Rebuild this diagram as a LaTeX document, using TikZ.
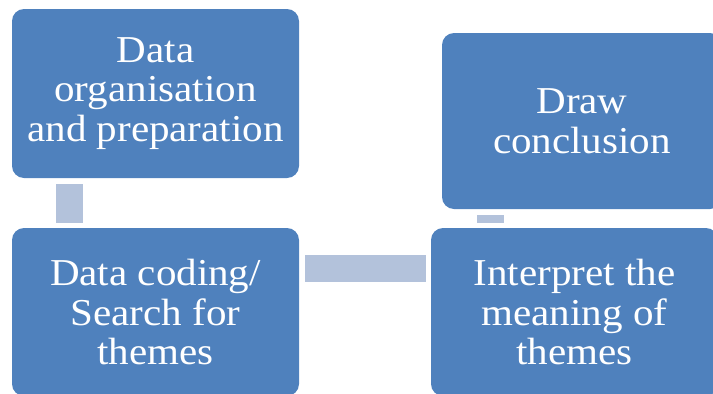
\documentclass[tikz,border=0pt]{standalone}
\usepackage{fontspec}
\setmainfont[FakeStretch=1.08]{Liberation Serif}
\usetikzlibrary{calc}
\definecolor{boxblue}{HTML}{4F81BD}
\definecolor{barblue}{HTML}{B3C2DB}
\begin{document}
\begin{tikzpicture}[x=1pt,y=-1pt]
        \tikzset{stage/.style={fill=boxblue,rounded corners=12pt,text=white,align=center,
                inner sep=0pt,font=\fontsize{38}{39.5}\selectfont},
            bar/.style={draw=barblue,line width=27pt,shorten <=6pt,shorten >=5pt}}
        \useasboundingbox (0,0) rectangle (713,394);
        \node[stage,minimum width=287pt,minimum height=169pt] (prep) at (155.5,93.5)
            {Data\\organisation\\and preparation};
        \node[stage,minimum width=287pt,minimum height=168pt] (code) at (155.5,312)
            {Data coding/\\Search for\\themes};
        \node[stage,minimum width=280pt,minimum height=176pt] (concl) at (582,121)
            {Draw\\conclusion};
        \node[stage,minimum width=287pt,minimum height=168pt] (interp) at (574.5,312)
            {Interpret the\\meaning of\\themes};
        \draw[bar] ($(prep.south west)+(57.5,0)$) -- ($(code.north west)+(57.5,0)$);
        \draw[bar] ($(code.north east)+(0,40.5)$) -- ($(code.north east -| interp.west)+(0,40.5)$);
        \draw[bar] ($(concl.south west)+(48.5,0)$) -- ($(concl.south west |- interp.north)+(48.5,0)$);
    \end{tikzpicture}
\end{document}
